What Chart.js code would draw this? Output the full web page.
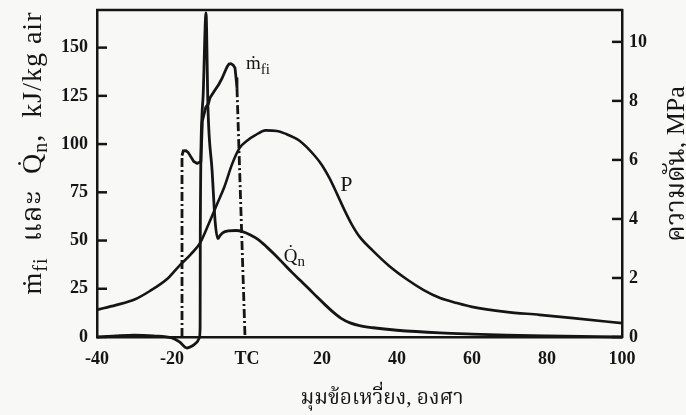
<!DOCTYPE html>
<html>
<head>
<meta charset="utf-8">
<script src="https://cdn.jsdelivr.net/npm/chart.js@4.4.1/dist/chart.umd.min.js"></script>
<style>
  html, body { margin: 0; padding: 0; background: #f8f8f6; }
  #wrap { width: 686px; height: 415px; }
</style>
</head>
<body>
<div id="wrap"><canvas id="c" width="686" height="415"></canvas></div>
<script>
// crank angle, degrees (TC = 0)
const xTickValues = [-40, -20, 0, 20, 40, 60, 80, 100];

// cylinder pressure P, MPa (right axis)
const pAngle = [-40, -35, -30, -26, -21, -18, -15, -12.5, -10, -8, -6, -4, -2, 0, 2, 5, 8, 10, 14, 18, 20, 22, 24, 26, 28, 30, 33.6, 38, 42.7, 47, 51.5, 56, 60, 69, 78, 87, 100];
const pMpa   = [0.92, 1.08, 1.27, 1.55, 2.0, 2.42, 2.8, 3.19, 3.9, 4.5, 5.1, 5.85, 6.4, 6.65, 6.82, 7.0, 6.98, 6.9, 6.65, 6.15, 5.82, 5.38, 4.85, 4.3, 3.8, 3.4, 2.92, 2.4, 1.95, 1.6, 1.32, 1.15, 1.02, 0.85, 0.75, 0.64, 0.47];

// net heat release rate Qn, kJ/kg air (left axis)
const qAngle = [-40, -35, -30, -25, -20, -18, -16, -14.5, -13.3, -12.7, -12.5, -12.45, -12.0, -11.7, -10.93, -10.4, -9.3, -8.5, -7.8, -7.2, -6.5, -5, -3, -1, 0.8, 3, 5.3, 7.5, 9.6, 12, 14.1, 16.5, 18.7, 21, 22.9, 25, 27.5, 30, 33.6, 40, 51.5, 60, 69.3, 80, 100];
const qKj    = [0, 0.6, 1.0, 0.6, -0.5, -2.5, -5.7, -4.5, -2.6, -0.5, 5, 55, 115, 125, 168, 118, 86, 60, 51, 52.5, 54, 55, 55.2, 54.5, 53, 50.5, 46.6, 42.5, 38.3, 33.5, 29.5, 25, 20.7, 16.4, 13.0, 9.8, 7.3, 5.9, 4.8, 3.5, 2.1, 1.5, 1.0, 0.6, 0];

// fuel injection rate m_fi, kJ/kg air (left axis)
const mAngle = [-17.33, -17.33, -17.0, -16.3, -15.7, -15.0, -14.2, -13.3, -12.3, -11.9, -11.0, -10.3, -9.87, -8.53, -7.5, -6.67, -5.9, -5.33, -4.8, -4.3, -3.7, -3.2, -2.93, -2.67, -0.53];
const mKj    = [0, 94, 96.5, 96.6, 95.7, 93.5, 91, 90, 91, 112, 119, 121, 124, 128, 131, 134, 137.5, 140, 141.5, 141.7, 141, 139.5, 134.5, 129, 0];

const ink = '#151515';
const serif = "'Liberation Serif', 'DejaVu Serif', 'Noto Serif Thai', 'Loma', 'Garuda', 'Noto Sans Thai', 'Sarabun', serif";
const dashDot = [9, 3, 2, 3];

const toPoints = (xs, ys) => xs.map((x, i) => ({ x, y: ys[i] }));

// draw text made of runs: [text, size, dy]
function drawRuns(ctx, parts, x, y, align, spacing) {
  ctx.letterSpacing = (spacing || 0) + 'px';
  let w = 0;
  parts.forEach(p => { ctx.font = `${p[1]}px ${serif}`; w += ctx.measureText(p[0]).width; });
  let cx = align === 'center' ? x - w / 2 : x;
  parts.forEach(p => {
    ctx.font = `${p[1]}px ${serif}`;
    ctx.fillText(p[0], cx, y + (p[2] || 0));
    cx += ctx.measureText(p[0]).width;
  });
  ctx.letterSpacing = '0px';
}

const decorations = {
  id: 'decorations',
  beforeDraw(chart) {
    const { ctx, width, height } = chart;
    ctx.save();
    ctx.fillStyle = '#f8f8f6';
    ctx.fillRect(0, 0, width, height);
    ctx.restore();
  },
  afterDraw(chart) {
    const { ctx, chartArea: a, scales } = chart;
    ctx.save();
    ctx.strokeStyle = ink;
    ctx.fillStyle = ink;

    // top frame line
    ctx.lineWidth = 2.5;
    ctx.beginPath();
    ctx.moveTo(a.left - 1, a.top);
    ctx.lineTo(a.right + 1, a.top);
    ctx.stroke();

    // inward tick marks
    scales.y.ticks.forEach(t => {
      const py = scales.y.getPixelForValue(t.value);
      ctx.beginPath(); ctx.moveTo(a.left, py); ctx.lineTo(a.left + 10, py); ctx.stroke();
    });
    scales.y2.ticks.forEach(t => {
      const py = scales.y2.getPixelForValue(t.value);
      ctx.beginPath(); ctx.moveTo(a.right - 10, py); ctx.lineTo(a.right, py); ctx.stroke();
    });

    ctx.textBaseline = 'alphabetic';

    // x title
    drawRuns(ctx, [['มุมข้อเหวี่ยง, องศา', 21]], 382, 404, 'center');

    // left title
    ctx.save();
    ctx.translate(41, 153);
    ctx.rotate(-Math.PI / 2);
    drawRuns(ctx, [['ṁ', 28], ['fi', 20, 6], ['  และ  ', 28], ['Q̇', 28], ['n', 20, 6], [',  kJ/kg air', 28]], 0, 0, 'center', 1);
    ctx.restore();

    // right title
    ctx.save();
    ctx.translate(684, 164);
    ctx.rotate(-Math.PI / 2);
    drawRuns(ctx, [['ความดัน, MPa', 26]], 0, 0, 'center');
    ctx.restore();

    // curve labels
    const x = scales.x, y = scales.y, y2 = scales.y2;
    drawRuns(ctx, [['P', 22]], x.getPixelForValue(26.5), y2.getPixelForValue(4.95), 'center');
    drawRuns(ctx, [['ṁ', 19], ['fi', 15, 5]], x.getPixelForValue(-0.3), y.getPixelForValue(139), 'left');
    drawRuns(ctx, [['Q̇', 19], ['n', 15, 4]], x.getPixelForValue(9.8), y.getPixelForValue(39), 'left');

    ctx.restore();
  }
};

const tickFont = { family: serif, size: 18, weight: 'bold' };
const noPadV = s => { s.paddingTop = 0; s.paddingBottom = 0; };

new Chart(document.getElementById('c'), {
  type: 'line',
  data: {
    datasets: [
      {
        label: 'P',
        data: toPoints(pAngle, pMpa),
        yAxisID: 'y2',
        borderColor: ink,
        borderWidth: 2.6,
        pointRadius: 0,
        cubicInterpolationMode: 'monotone',
        fill: false
      },
      {
        label: 'Qn',
        data: toPoints(qAngle, qKj),
        yAxisID: 'y',
        borderColor: ink,
        borderWidth: 2.8,
        pointRadius: 0,
        cubicInterpolationMode: 'monotone',
        clip: false,
        fill: false
      },
      {
        label: 'mfi',
        data: toPoints(mAngle, mKj),
        yAxisID: 'y',
        borderColor: ink,
        borderWidth: 2.8,
        pointRadius: 0,
        tension: 0,
        fill: false,
        segment: {
          borderDash: c => (c.p0DataIndex === 0 || c.p1DataIndex === mAngle.length - 1) ? dashDot : undefined
        }
      }
    ]
  },
  options: {
    responsive: false,
    animation: false,
    devicePixelRatio: 1,
    layout: { padding: { top: 10, left: 0, right: 0, bottom: 0 } },
    plugins: {
      legend: { display: false },
      tooltip: { enabled: false }
    },
    scales: {
      x: {
        type: 'linear',
        min: -40,
        max: 100,
        afterBuildTicks: s => { s.ticks = xTickValues.map(v => ({ value: v })); },
        afterFit: s => { s.height = 78; s.paddingLeft = 0; s.paddingRight = 0; },
        ticks: {
          callback: v => v === 0 ? 'TC' : v,
          font: tickFont,
          color: ink,
          padding: 12,
          maxRotation: 0
        },
        grid: { display: false, drawTicks: false },
        border: { display: true, color: ink, width: 2.5 }
      },
      y: {
        position: 'left',
        min: 0,
        max: 169.5,
        afterFit: s => { s.width = 97; noPadV(s); },
        ticks: { stepSize: 25, includeBounds: false, font: tickFont, color: ink, padding: 9 },
        grid: { display: false, drawTicks: false },
        border: { display: true, color: ink, width: 2.5 }
      },
      y2: {
        position: 'right',
        min: 0,
        max: 11.08,
        afterFit: s => { s.width = 64; noPadV(s); },
        ticks: { stepSize: 2, includeBounds: false, font: tickFont, color: ink, padding: 7 },
        grid: { display: false, drawTicks: false },
        border: { display: true, color: ink, width: 2.5 }
      }
    }
  },
  plugins: [decorations]
});
</script>
</body>
</html>
